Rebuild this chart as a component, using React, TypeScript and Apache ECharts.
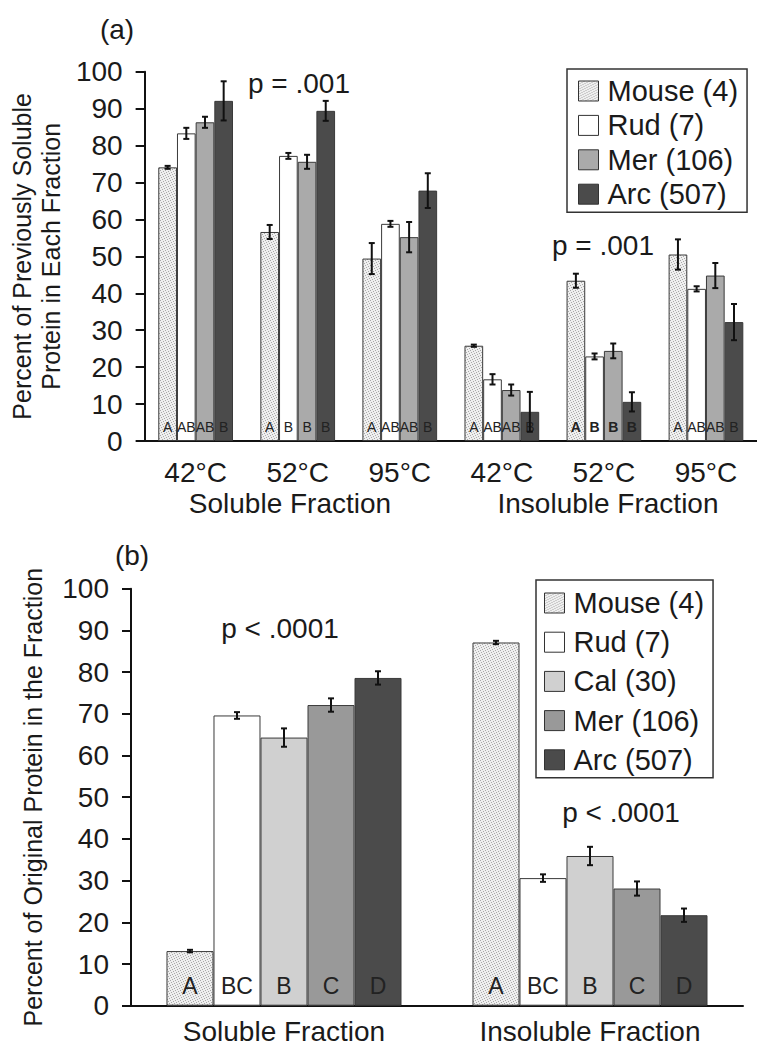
import React, { useEffect, useRef } from 'react';
import * as echarts from 'echarts';

// ---------- Data: panel (a) ----------
const tempCategories = ['42°C', '52°C', '95°C', '42°C', '52°C', '95°C'];
const groupLabelsA = ['Soluble Fraction', 'Insoluble Fraction'];
const namesA = ['Mouse (4)', 'Rud (7)', 'Mer (106)', 'Arc (507)'];

const mouseA = [74.1, 56.6, 49.4, 25.8, 43.4, 50.5];
const mouseErrA = [0.4, 1.9, 4.2, 0.3, 1.9, 4.1];
const rudA = [83.3, 77.2, 58.8, 16.7, 22.9, 41.2];
const rudErrA = [1.5, 0.8, 0.8, 1.4, 0.8, 0.7];
const merA = [86.3, 75.6, 55.2, 13.8, 24.4, 44.8];
const merErrA = [1.5, 1.9, 4.1, 1.5, 2.0, 3.4];
const arcA = [92.1, 89.4, 67.8, 7.9, 10.6, 32.2];
const arcErrA = [5.3, 2.7, 4.7, 5.4, 2.6, 4.9];

const mouseLettersA = ['A', 'A', 'A', 'A', 'A', 'A'];
const rudLettersA = ['AB', 'B', 'AB', 'AB', 'B', 'AB'];
const merLettersA = ['AB', 'B', 'AB', 'AB', 'B', 'AB'];
const arcLettersA = ['B', 'B', 'B', 'B', 'B', 'B'];
const pTextsA = ['p = .001', 'p = .001'];

// ---------- Data: panel (b) ----------
const fractionCategories = ['Soluble Fraction', 'Insoluble Fraction'];
const namesB = ['Mouse (4)', 'Rud (7)', 'Cal (30)', 'Mer (106)', 'Arc (507)'];

const mouseB = [13.1, 87.1];
const mouseErrB = [0.3, 0.4];
const rudB = [69.6, 30.6];
const rudErrB = [0.8, 0.9];
const calB = [64.3, 35.9];
const calErrB = [2.2, 2.2];
const merB = [72.1, 28.1];
const merErrB = [1.6, 1.7];
const arcB = [78.6, 21.7];
const arcErrB = [1.6, 1.6];

const mouseLettersB = ['A', 'A'];
const rudLettersB = ['BC', 'BC'];
const calLettersB = ['B', 'B'];
const merLettersB = ['C', 'C'];
const arcLettersB = ['D', 'D'];
const pTextsB = ['p < .0001', 'p < .0001'];

const FONT = '"Liberation Sans", Arial, Helvetica, sans-serif';
const INK = '#1a1a1a';

function makeStipple(): any {
  const c = document.createElement('canvas');
  c.width = 5;
  c.height = 5;
  const ctx = c.getContext('2d')!;
  ctx.fillStyle = '#efefef';
  ctx.fillRect(0, 0, 5, 5);
  ctx.fillStyle = '#a9a9a9';
  [[0, 0], [3, 1], [1, 2], [4, 3], [2, 4]].forEach(([x, y]) => ctx.fillRect(x, y, 1, 1));
  return { image: c, repeat: 'repeat' };
}

function errSeries(values: number[], errs: number[], idx: number, n: number, gap: number, axis: number) {
  return {
    type: 'custom',
    xAxisIndex: axis,
    yAxisIndex: axis,
    z: 10,
    silent: true,
    data: values.map((v, i) => [i, v, errs[i]]),
    encode: { x: 0, y: 1 },
    renderItem: (params: any, api: any) => {
      const cat = api.value(0);
      const v = api.value(1);
      const e = api.value(2);
      const band = api.size([1, 0])[0];
      const bw = (band * (1 - gap)) / n;
      const x = api.coord([cat, v])[0] + (idx - (n - 1) / 2) * bw;
      const y1 = api.coord([cat, v + e])[1];
      const y2 = api.coord([cat, v - e])[1];
      const cap = 3;
      const style = { stroke: '#111', lineWidth: 2 };
      return {
        type: 'group',
        children: [
          { type: 'line', shape: { x1: x, y1: y1, x2: x, y2: y2 }, style },
          { type: 'line', shape: { x1: x - cap, y1: y1, x2: x + cap, y2: y1 }, style },
          { type: 'line', shape: { x1: x - cap, y1: y2, x2: x + cap, y2: y2 }, style },
        ],
      };
    },
  };
}

export default function App() {
  const ref = useRef<HTMLDivElement>(null);
  useEffect(() => {
    if (!ref.current) return;
    const chart = echarts.init(ref.current, undefined, { renderer: 'svg' });
    const stipple = makeStipple();
    const border = { borderColor: '#3a3a3a', borderWidth: 1 };

    const gapA = 0.268;
    const gapB = 0.232;

    const specA = [
      { name: namesA[0], vals: mouseA, errs: mouseErrA, letters: mouseLettersA, color: stipple },
      { name: namesA[1], vals: rudA, errs: rudErrA, letters: rudLettersA, color: '#ffffff' },
      { name: namesA[2], vals: merA, errs: merErrA, letters: merLettersA, color: '#aaaaaa' },
      { name: namesA[3], vals: arcA, errs: arcErrA, letters: arcLettersA, color: '#4b4b4b' },
    ];
    // zero-width space keeps panel (b) names distinct from panel (a)
    const specB = [
      { name: namesB[0] + '\u200b', vals: mouseB, errs: mouseErrB, letters: mouseLettersB, color: stipple },
      { name: namesB[1] + '\u200b', vals: rudB, errs: rudErrB, letters: rudLettersB, color: '#ffffff' },
      { name: namesB[2] + '\u200b', vals: calB, errs: calErrB, letters: calLettersB, color: '#d0d0d0' },
      { name: namesB[3] + '\u200b', vals: merB, errs: merErrB, letters: merLettersB, color: '#999999' },
      { name: namesB[4] + '\u200b', vals: arcB, errs: arcErrB, letters: arcLettersB, color: '#4b4b4b' },
    ];

    const series: any[] = [];
    specA.forEach((s) => {
      series.push({
        type: 'bar',
        name: s.name,
        xAxisIndex: 0,
        yAxisIndex: 0,
        barGap: '0%',
        barCategoryGap: gapA * 100 + '%',
        itemStyle: { color: s.color, ...border },
        label: {
          show: true,
          position: 'insideBottom',
          distance: 7,
          fontSize: 14,
          fontFamily: FONT,
          color: '#222',
          formatter: (p: any) => s.letters[p.dataIndex],
        },
        data: s.vals.map((v, i) => (i === 4 ? { value: v, label: { fontWeight: 'bold' } } : v)),
      });
    });
    specA.forEach((s, idx) => series.push(errSeries(s.vals, s.errs, idx, specA.length, gapA, 0)));
    specB.forEach((s) => {
      series.push({
        type: 'bar',
        name: s.name,
        xAxisIndex: 1,
        yAxisIndex: 1,
        barGap: '0%',
        barCategoryGap: gapB * 100 + '%',
        itemStyle: { color: s.color, ...border },
        label: {
          show: true,
          position: 'insideBottom',
          distance: 8,
          fontSize: 23,
          fontFamily: FONT,
          color: '#222',
          formatter: (p: any) => s.letters[p.dataIndex],
        },
        data: s.vals,
      });
    });
    specB.forEach((s, idx) => series.push(errSeries(s.vals, s.errs, idx, specB.length, gapB, 1)));

    const axisLine = { lineStyle: { color: '#111', width: 2 } };
    const tick = { length: 9, lineStyle: { color: '#111', width: 2 } };
    const tickLabel = { fontSize: 28, color: INK, fontFamily: FONT, margin: 22 };

    const legendCommon = {
      orient: 'vertical',
      selectedMode: false,
      itemWidth: 20,
      itemHeight: 20,
      borderColor: '#333',
      borderWidth: 1.5,
      backgroundColor: '#fff',
      icon: 'rect',
      itemStyle: { borderColor: '#333', borderWidth: 1 },
      textStyle: { fontSize: 29, lineHeight: 30, color: INK, fontFamily: FONT, padding: [0, 0, 0, 4] },
    };

    const txt = (x: number, y: number, t: string) => ({
      type: 'text',
      x,
      y,
      style: { text: t, fontSize: 28, fontFamily: FONT, fill: INK, textAlign: 'center', textVerticalAlign: 'middle' },
    });

    chart.setOption({
      animation: false,
      textStyle: { fontFamily: FONT },
      grid: [
        { left: 131, top: 71.7, width: 636, height: 369.3 },
        { left: 131, top: 588.7, width: 612, height: 417 },
      ],
      xAxis: [
        {
          type: 'category',
          gridIndex: 0,
          data: tempCategories,
          axisLine,
          axisTick: { ...tick, length: 10 },
          axisLabel: { fontSize: 28, color: INK, fontFamily: FONT, margin: 17 },
        },
        {
          type: 'category',
          gridIndex: 1,
          data: fractionCategories,
          axisLine,
          axisTick: { ...tick, length: 10 },
          axisLabel: { fontSize: 28, color: INK, fontFamily: FONT, margin: 12 },
        },
      ],
      yAxis: [
        {
          type: 'value',
          gridIndex: 0,
          min: 0,
          max: 100,
          interval: 10,
          splitLine: { show: false },
          axisLine: { show: true, ...axisLine },
          axisTick: { show: true, ...tick },
          axisLabel: tickLabel,
          name: 'Percent of Previously Soluble\nProtein in Each Fraction',
          nameLocation: 'middle',
          nameRotate: 90,
          nameGap: 65,
          nameTextStyle: { fontSize: 25, lineHeight: 28.5, color: INK, fontFamily: FONT },
        },
        {
          type: 'value',
          gridIndex: 1,
          min: 0,
          max: 100,
          interval: 10,
          splitLine: { show: false },
          axisLine: { show: true, ...axisLine },
          axisTick: { show: true, ...tick },
          axisLabel: tickLabel,
          name: 'Percent of Original Protein in the Fraction',
          nameLocation: 'middle',
          nameRotate: 90,
          nameGap: 86,
          nameTextStyle: { fontSize: 25, color: INK, fontFamily: FONT },
        },
      ],
      legend: [
        {
          ...legendCommon,
          left: 567,
          top: 69,
          padding: [7, 9, 3, 11],
          itemGap: 4.4,
          data: specA.map((s) => s.name),
        },
        {
          ...legendCommon,
          left: 536,
          top: 580,
          padding: [8, 9, 3, 8],
          itemGap: 9.2,
          data: specB.map((s) => s.name),
        },
      ],
      graphic: [
        txt(117, 29, '(a)'),
        txt(132, 555, '(b)'),
        txt(290, 503, groupLabelsA[0]),
        txt(608, 503, groupLabelsA[1]),
        txt(299, 83, pTextsA[0]),
        txt(603, 245, pTextsA[1]),
        txt(280, 628, pTextsB[0]),
        txt(621, 812, pTextsB[1]),
      ],
      series,
    });
    return () => chart.dispose();
  }, []);
  return <div ref={ref} style={{ position: 'absolute', left: 0, top: 0, width: 757, height: 1047, background: '#fff' }} />;
}
